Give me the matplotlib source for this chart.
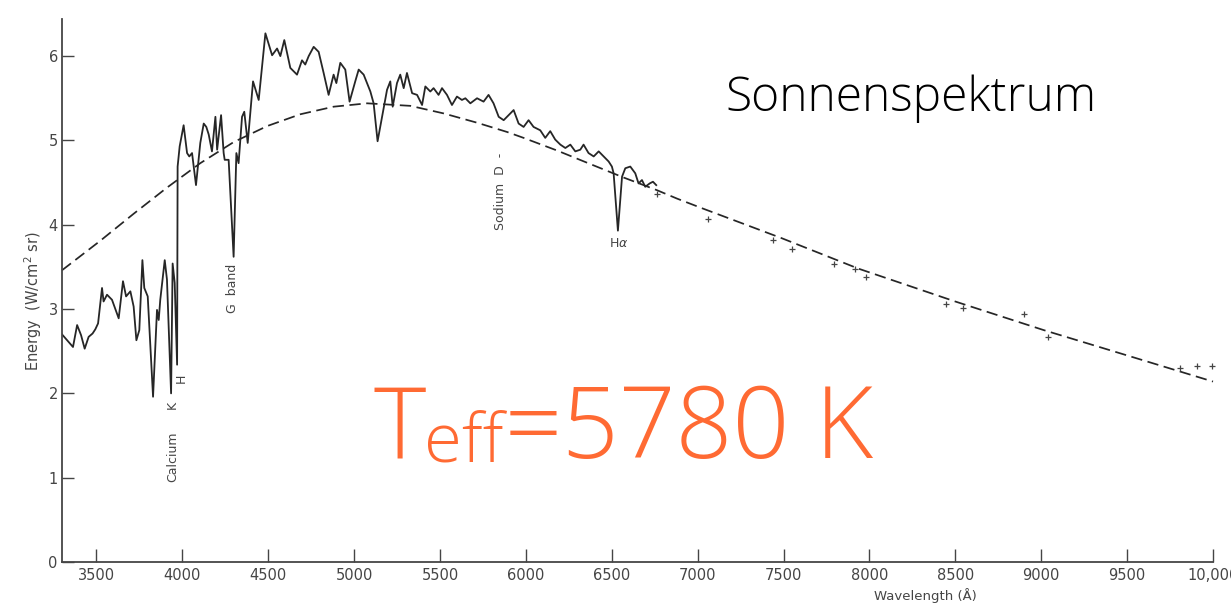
import matplotlib
matplotlib.use("Agg")
import matplotlib.pyplot as plt

# Observed solar spectrum (wavelength in Angstrom, energy in W/cm^2 sr)
spec_wl = [3300, 3364, 3388, 3411, 3432, 3455, 3478, 3494, 3510, 3533, 3542, 3562,
           3591, 3630, 3655, 3673, 3698, 3717, 3733, 3750, 3768, 3779, 3799, 3830,
           3853, 3863, 3872, 3898, 3911, 3935, 3944, 3956, 3970, 3973, 3985, 4008,
           4028, 4041, 4057, 4080, 4105, 4125, 4140, 4154, 4173, 4193, 4203, 4226,
           4241, 4247, 4270, 4299, 4315, 4328, 4348, 4361, 4381, 4412, 4445, 4484,
           4523, 4552, 4571, 4594, 4629, 4668, 4697, 4716, 4736, 4765, 4794, 4823,
           4852, 4881, 4897, 4920, 4949, 4974, 5007, 5027, 5056, 5095, 5114, 5137,
           5163, 5192, 5211, 5225, 5250, 5269, 5289, 5308, 5338, 5367, 5396, 5415,
           5444, 5463, 5492, 5512, 5541, 5570, 5599, 5628, 5648, 5677, 5716, 5754,
           5783, 5812, 5842, 5871, 5900, 5929, 5958, 5987, 6016, 6045, 6084, 6113,
           6142, 6171, 6201, 6230, 6259, 6288, 6317, 6336, 6365, 6395, 6424, 6453,
           6482, 6501, 6511, 6536, 6560, 6579, 6608, 6637, 6656, 6676, 6695, 6721,
           6740, 6759]
spec_e = [2.70, 2.55, 2.81, 2.69, 2.53, 2.67, 2.71, 2.76, 2.83, 3.25, 3.09, 3.17,
          3.11, 2.89, 3.33, 3.15, 3.21, 3.03, 2.63, 2.75, 3.58, 3.25, 3.15, 1.96,
          2.99, 2.87, 3.11, 3.58, 3.35, 2.00, 3.54, 3.31, 2.34, 4.69, 4.93, 5.18,
          4.85, 4.81, 4.85, 4.47, 4.97, 5.20, 5.16, 5.07, 4.87, 5.28, 4.89, 5.30,
          4.85, 4.77, 4.77, 3.62, 4.85, 4.73, 5.28, 5.34, 4.97, 5.70, 5.48, 6.27,
          6.01, 6.09, 6.00, 6.19, 5.86, 5.78, 5.95, 5.90, 6.00, 6.11, 6.05, 5.80,
          5.54, 5.78, 5.68, 5.92, 5.84, 5.46, 5.70, 5.84, 5.78, 5.58, 5.44, 4.99,
          5.28, 5.60, 5.70, 5.40, 5.68, 5.78, 5.62, 5.80, 5.56, 5.54, 5.42, 5.64,
          5.58, 5.62, 5.54, 5.62, 5.54, 5.42, 5.52, 5.48, 5.50, 5.44, 5.50, 5.46,
          5.54, 5.44, 5.28, 5.24, 5.30, 5.36, 5.20, 5.16, 5.24, 5.16, 5.12, 5.03,
          5.11, 5.01, 4.95, 4.91, 4.95, 4.87, 4.89, 4.95, 4.85, 4.81, 4.87, 4.81,
          4.75, 4.69, 4.61, 3.93, 4.57, 4.67, 4.69, 4.61, 4.49, 4.53, 4.45, 4.49,
          4.51, 4.47]

# Black-body continuum for T = 5780 K
bb_wl = [3300, 3523, 3717, 3911, 4105, 4299, 4494, 4687, 4881, 5076, 5328, 5522,
         5716, 5891, 5987, 6182, 6375, 6569, 6763, 6880, 7020, 7490, 7935, 8499,
         9015, 9484, 10000]
bb_e = [3.46, 3.81, 4.13, 4.44, 4.73, 4.98, 5.17, 5.31, 5.40, 5.44, 5.41, 5.32,
        5.21, 5.10, 5.03, 4.88, 4.72, 4.56, 4.41, 4.31, 4.20, 3.84, 3.48, 3.09,
        2.75, 2.46, 2.14]

# Infrared measurements
ir_wl = [6762, 7062, 7438, 7551, 7795, 7917, 7978, 8447, 8546, 8898, 9039, 9808,
         9907, 9994]
ir_e = [4.36, 4.07, 3.82, 3.71, 3.54, 3.47, 3.38, 3.06, 3.01, 2.94, 2.67, 2.30,
        2.32, 2.32]

x_ticks = [3500, 4000, 4500, 5000, 5500, 6000, 6500, 7000, 7500, 8000, 8500,
           9000, 9500, 10000]
x_ticklabels = ["3500", "4000", "4500", "5000", "5500", "6000", "6500", "7000",
                "7500", "8000", "8500", "9000", "9500", "10,000"]
y_ticks = [0, 1, 2, 3, 4, 5, 6]

W, H = 1231, 603
fig = plt.figure(figsize=(W / 100, H / 100), dpi=100)
fig.patch.set_facecolor("white")

ax = fig.add_axes([62 / W, 1 - 562 / H, (1213 - 62) / W, (562 - 19) / H])
ax.set_xlim(3300, 10000)
ax.set_ylim(0, 6.44)

ink = "#262626"
grey = "#454545"

ax.plot(spec_wl, spec_e, color=ink, lw=1.3, solid_joinstyle="round")
ax.plot(bb_wl, bb_e, color=ink, lw=1.25, dashes=(6.5, 3.2), clip_on=False)
ax.plot(ir_wl, ir_e, ls="none", marker="+", ms=5, mew=0.9, color=grey,
        clip_on=False)

for s in ("top", "right"):
    ax.spines[s].set_visible(False)
for s in ("left", "bottom"):
    ax.spines[s].set_color(grey)
    ax.spines[s].set_linewidth(1.3)

tick_font = dict(family="DejaVu Sans", size=10.5)
ax.set_xticks(x_ticks)
ax.set_xticklabels(x_ticklabels, **tick_font, color=grey)
ax.set_yticks(y_ticks)
ax.set_yticklabels([str(v) for v in y_ticks], **tick_font, color=grey)
ax.tick_params(axis="x", direction="in", length=9.5, width=1.0, color=grey, pad=4)
ax.tick_params(axis="y", direction="in", length=8.5, width=1.0, color=grey, pad=3)

fig.text(33 / W, 1 - 301 / H, r"Energy  (W/cm$^2$ sr)", rotation=90,
         ha="center", va="center", fontsize=10.5, color=grey, family="DejaVu Sans")
fig.text(925 / W, 1 - 596 / H, "Wavelength (Å)", ha="center", va="center",
         fontsize=9.5, color=grey, family="DejaVu Sans")

# Line identifications
lab = dict(fontsize=9, color=grey, family="DejaVu Sans", ha="center", va="center")
ax.text(3942, 1.25, "Calcium", rotation=90, **lab)
ax.text(3939, 1.86, "K", rotation=90, **lab)
ax.text(3992, 2.18, "H", rotation=90, **lab)
ax.text(4292, 3.24, "G  band", rotation=90, **lab)
ax.text(5855, 4.39, "Sodium  D  -", rotation=90, **lab)
ax.text(6538, 3.78, r"H$\alpha$", **lab)

headline = dict(family=["Open Sans", "Roboto", "DejaVu Sans"], weight="light")
r = fig.canvas.get_renderer()


def fit_width(txt, left, right):
    """Scale a text's font size so that it spans [left, right] in pixels."""
    fig.canvas.draw()
    bb = txt.get_window_extent(r)
    txt.set_fontsize(txt.get_fontsize() * (right - left) / bb.width)


title = fig.text(725 / W, 1 - 111 / H, "Sonnenspektrum", fontsize=36,
                 color="black", va="baseline", ha="left", **headline)
fit_width(title, 725, 1097)

orange = "#FF6A33"
base_y = 1 - 458 / H
big, small = 72, 50
t1 = fig.text(374 / W, base_y, "T", fontsize=big, color=orange, va="baseline",
              **headline)
fig.canvas.draw()
b1 = t1.get_window_extent(r)
t2 = fig.text((b1.x1 - 2) / W, base_y - 4 / H, "eff", fontsize=small,
              color=orange, va="baseline", **headline)
fig.canvas.draw()
b2 = t2.get_window_extent(r)
t3 = fig.text((b2.x1 + 1) / W, base_y, "=5780 K", fontsize=big, color=orange,
              va="baseline", **headline)
fig.canvas.draw()
scale = (873 - 374) / (t3.get_window_extent(r).x1 - 374)
for t in (t1, t2, t3):
    t.set_fontsize(t.get_fontsize() * scale)
fig.canvas.draw()
b1 = t1.get_window_extent(r)
t2.set_x((b1.x1 - 2) / W)
fig.canvas.draw()
b2 = t2.get_window_extent(r)
t3.set_x((b2.x1 + 1) / W)

fig.savefig("out.png", dpi=100, facecolor="white")
